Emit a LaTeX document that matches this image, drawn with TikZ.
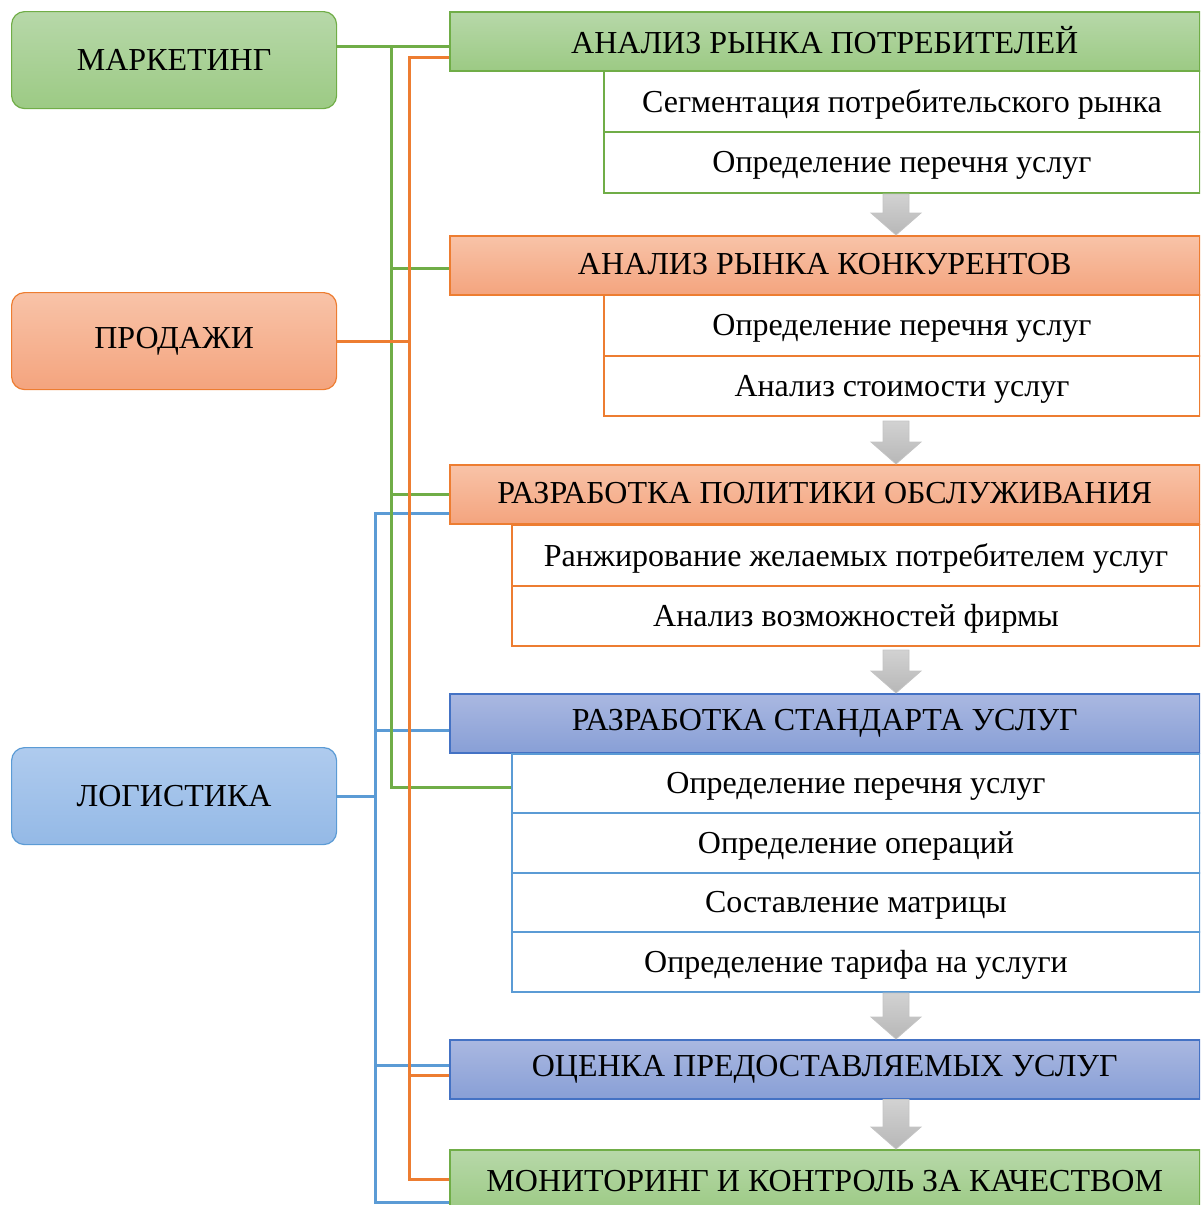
\documentclass[tikz,border=0pt]{standalone}
\usepackage{fontspec}
\setmainfont{Liberation Serif}
\usetikzlibrary{calc}
\definecolor{gB}{HTML}{70AD47}\definecolor{gT}{HTML}{B7D8A9}\definecolor{gD}{HTML}{9CCA84}
\definecolor{oB}{HTML}{ED7D31}\definecolor{oT}{HTML}{F8C3A8}\definecolor{oD}{HTML}{F4A47E}
\definecolor{bB}{HTML}{4472C4}\definecolor{bT}{HTML}{AAB8E1}\definecolor{bD}{HTML}{889FD6}
\definecolor{lB}{HTML}{5B9BD5}\definecolor{lT}{HTML}{AFCBEE}\definecolor{lD}{HTML}{94B9E6}
\definecolor{aT}{HTML}{D2D2D2}\definecolor{aD}{HTML}{B7B7B7}\definecolor{aB}{HTML}{C4C4C4}
\newcommand\subtxt[1]{\raisebox{-3pt}[\height][\depth]{#1}}
\newcommand\hdrtxt[1]{\raisebox{1.5pt}[\height][\depth]{#1}}
\tikzset{
 base/.style={rectangle,inner sep=0pt,anchor=north west,font=\fontsize{32}{38}\selectfont,text=black},
 leftbox/.style={base,rounded corners=13pt,line width=1.2pt,minimum width=325pt,minimum height=97pt},
 hdr/.style={base,line width=1.5pt,minimum width=750pt,minimum height=59pt},
 sub/.style={base,line width=2pt,fill=white},
 ggr/.style={draw=gB,top color=gT,bottom color=gD},
 ogr/.style={draw=oB,top color=oT,bottom color=oD},
 bgr/.style={draw=bB,top color=bT,bottom color=bD},
 lgr/.style={draw=lB,top color=lT,bottom color=lD},
 gline/.style={draw=gB,line width=3pt},
 oline/.style={draw=oB,line width=3pt},
 bline/.style={draw=lB,line width=3pt},
 garrow/.style={draw=aB,line width=0.8pt,top color=aT,bottom color=aD},
}
\newcommand\grayarrow[2]{%
 \path[garrow] let \p1=(#1), \p2=(#2) in
 (\x1-13pt,\y1) -- (\x1+13pt,\y1) -- (\x1+13pt,\y2+22pt) -- (\x1+25pt,\y2+22pt)
 -- (\x2,\y2) -- (\x1-25pt,\y2+22pt) -- (\x1-13pt,\y2+22pt) -- cycle;}
\begin{document}
\begin{tikzpicture}[x=1pt,y=-1pt]
\useasboundingbox (0,0) rectangle (1200,1205);
\begin{scope}
\clip (0,0) rectangle (1200,1205);
% trunk and level coordinates
\coordinate (gx) at (391,0);
\coordinate (ox) at (409,0);
\coordinate (bx) at (375,0);
\coordinate (ax) at (896,0);
\coordinate (g1) at (0,46);
\coordinate (g2) at (0,268);
\coordinate (g4) at (0,787);
\coordinate (o1) at (0,57);
\coordinate (o5) at (0,1075);
\coordinate (o6) at (0,1179);
\coordinate (b3) at (0,513);
\coordinate (b4) at (0,730);
\coordinate (b5) at (0,1065);
\coordinate (b6) at (0,1202);

% left boxes
\node[leftbox,ggr] (mk) at (11,11) {МАРКЕТИНГ};
\node[leftbox,ogr] (pr) at (11,292) {ПРОДАЖИ};
\node[leftbox,lgr] (lg) at (11,747) {ЛОГИСТИКА};

% headers
\node[hdr,ggr] (h1) at (449,11) {\hdrtxt{АНАЛИЗ РЫНКА ПОТРЕБИТЕЛЕЙ}};
\node[hdr,ogr] (h2) at (449,235) {\hdrtxt{АНАЛИЗ РЫНКА КОНКУРЕНТОВ}};
\node[hdr,ogr] (h3) at (449,464) {\hdrtxt{РАЗРАБОТКА ПОЛИТИКИ ОБСЛУЖИВАНИЯ}};
\node[hdr,bgr] (h4) at (449,693) {РАЗРАБОТКА СТАНДАРТА УСЛУГ};
\node[hdr,bgr] (h5) at (449,1039) {ОЦЕНКА ПРЕДОСТАВЛЯЕМЫХ УСЛУГ};
\node[hdr,ggr,minimum height=62pt] (h6) at (449,1149) {МОНИТОРИНГ И КОНТРОЛЬ ЗА КАЧЕСТВОМ};

% sub boxes
\node[sub,draw=gB,minimum width=596pt,minimum height=61pt] (s11) at (603,70) {\subtxt{Сегментация потребительского рынка}};
\node[sub,draw=gB,minimum width=596pt,minimum height=61pt] (s12) at (603,131) {\subtxt{Определение перечня услуг}};
\node[sub,draw=oB,minimum width=596pt,minimum height=61pt] (s21) at (603,294) {\subtxt{Определение перечня услуг}};
\node[sub,draw=oB,minimum width=596pt,minimum height=60pt] (s22) at (603,355) {\subtxt{Анализ стоимости услуг}};
\node[sub,draw=oB,minimum width=688pt,minimum height=61pt] (s31) at (511,524) {\subtxt{Ранжирование желаемых потребителем услуг}};
\node[sub,draw=oB,minimum width=688pt,minimum height=60pt] (s32) at (511,585) {\subtxt{Анализ возможностей фирмы}};
\node[sub,draw=lB,minimum width=688pt,minimum height=59pt] (s41) at (511,753) {\subtxt{Определение перечня услуг}};
\node[sub,draw=lB,minimum width=688pt,minimum height=60pt] (s42) at (511,812) {\subtxt{Определение операций}};
\node[sub,draw=lB,minimum width=688pt,minimum height=59pt] (s43) at (511,872) {\subtxt{Составление матрицы}};
\node[sub,draw=lB,minimum width=688pt,minimum height=60pt] (s44) at (511,931) {\subtxt{Определение тарифа на услуги}};

% gray arrows
\grayarrow{s12.south -| ax}{h2.north -| ax}
\grayarrow{$(s22.south -| ax)+(0,4)$}{h3.north -| ax}
\grayarrow{$(s32.south -| ax)+(0,3)$}{h4.north -| ax}
\grayarrow{s44.south -| ax}{h5.north -| ax}
\grayarrow{h5.south -| ax}{h6.north -| ax}

% blue connectors
\draw[bline] (h3.west |- b3) -- (bx |- b3) -- (bx |- b6) -- (h6.west |- b6);
\draw[bline] (lg.east) -- (bx |- lg.east);
\draw[bline] (bx |- b4) -- (h4.west |- b4);
\draw[bline] (bx |- b5) -- (h5.west |- b5);
% green connectors
\draw[gline] (mk.east |- g1) -- (h1.west |- g1);
\draw[gline] (gx |- g1) -- (gx |- g4) -- (s41.west |- g4);
\draw[gline] (gx |- g2) -- (h2.west |- g2);
\draw[gline] (gx |- h3.west) -- (h3.west);
% orange connectors
\draw[oline] (h1.west |- o1) -- (ox |- o1) -- (ox |- o6) -- (h6.west |- o6);
\draw[oline] (pr.east) -- (ox |- pr.east);
\draw[oline] (ox |- o5) -- (h5.west |- o5);
\end{scope}
\end{tikzpicture}
\end{document}
